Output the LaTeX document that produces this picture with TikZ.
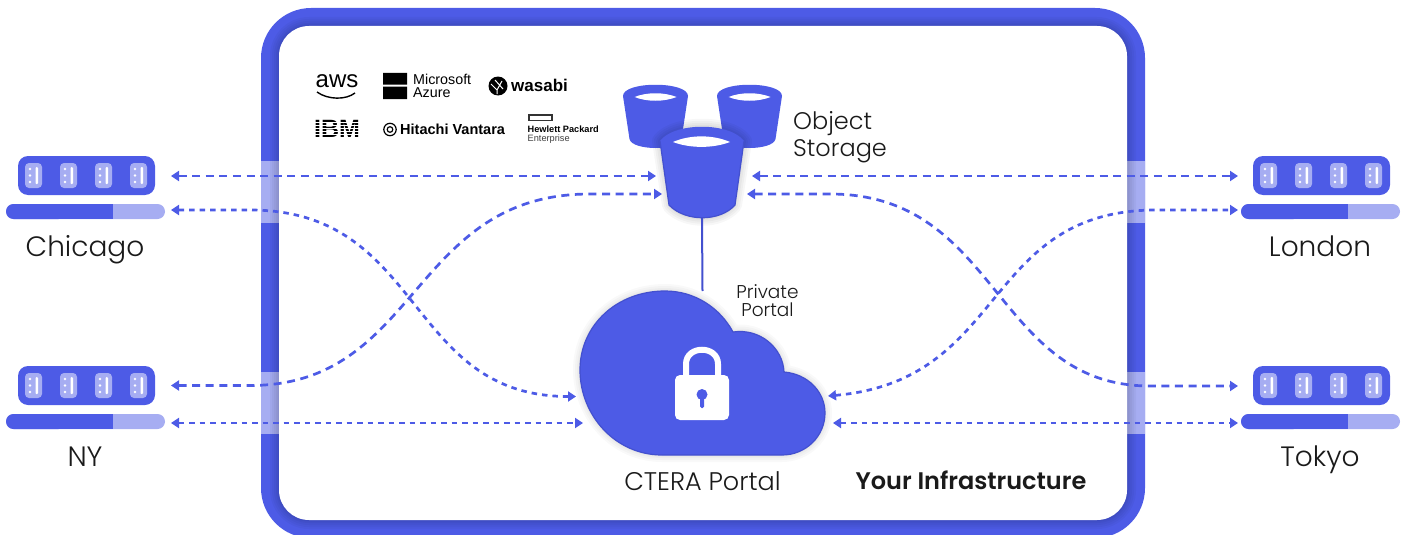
\documentclass[tikz,border=0pt]{standalone}
\usepackage{fontspec}
\setmainfont{Poppins Light}[BoldFont={Poppins SemiBold}]
\newfontfamily\logofont{Liberation Sans}
\usetikzlibrary{arrows.meta}
\definecolor{ctblue}{HTML}{4D5BE6}
\definecolor{ctdark}{HTML}{4350CF}
\definecolor{ctlight}{HTML}{A6ADF2}
\definecolor{txt}{HTML}{1A1A1A}
\newcommand{\fsz}[1]{\fontsize{#1}{#1}\selectfont}
\tikzset{
 linkbase/.style={ctblue,line width=2.7pt,{Triangle[length=8pt,width=10pt]}-{Triangle[length=8pt,width=10pt]}},
 link/.style={linkbase,dash pattern=on 8pt off 5.6pt},
 linkfine/.style={linkbase,dash pattern=on 5.5pt off 5pt},
 place/.style={text=txt,font=\fsz{28},inner sep=0pt,anchor=base},
 small/.style={text=txt,align=center,font=\fsz{18.5},inner sep=0pt},
 anchorbox/.style={inner sep=0pt,outer sep=0pt},
 logo/.style={inner sep=0pt,text=black,anchor=west,align=left},
}
\newcommand{\bucket}[5]{% cx, top y (ellipse centre), half width, bottom y, white half width
 \fill[ctblue] (#1-#3,#2) .. controls (#1-#3,#2-15) and (#1+#3,#2-15) .. (#1+#3,#2)
   -- (#1+#3*0.80,#4-14) .. controls (#1+#3*0.72,#4-2) and (#1-#3*0.72,#4-2) .. (#1-#3*0.80,#4-14) -- cycle;
 \fill[white] (#1-#5,#2+1) .. controls (#1-#5*0.4,#2-4) and (#1+#5*0.4,#2-4) .. (#1+#5,#2+1)
   .. controls (#1+#5*0.4,#2+6) and (#1-#5*0.4,#2+6) .. (#1-#5,#2+1) -- cycle;
}
\newcommand{\server}[3]{% name, left x of bar, top y of body
 \fill[ctblue,rounded corners=10pt] (#2+12,#3) rectangle (#2+149,#3+39);
 \foreach \dx in {0,35,70,105}{
  \fill[ctlight,rounded corners=4pt] (#2+19+\dx,#3+7) rectangle (#2+36+\dx,#3+32);
  \fill[white] (#2+24+\dx,#3+13) circle (1.4) (#2+24+\dx,#3+19.5) circle (1.4) (#2+24+\dx,#3+26) circle (1.4);
  \fill[white,rounded corners=1pt] (#2+29.5+\dx,#3+11) rectangle (#2+32+\dx,#3+28);
 }
 \fill[ctlight,rounded corners=7.5pt] (#2,#3+48) rectangle (#2+159,#3+63);
 \fill[ctblue,rounded corners=7.5pt] (#2,#3+48) -- (#2,#3+63) -- (#2+60,#3+63) -- (#2+60,#3+48) -- cycle;
 \fill[ctblue] (#2+30,#3+48) rectangle (#2+107,#3+63);
 \node[anchorbox,minimum width=159pt,minimum height=63pt] (#1) at (#2+79.5,#3+31.5) {};
}
\begin{document}
\begin{tikzpicture}[x=1pt,y=-1pt]
\useasboundingbox (0,0) rectangle (1405,535);
% frame
\fill[ctblue,rounded corners=50pt] (261,8) rectangle (1145,538);
\foreach \px in {261,1127}{
 \fill[ctlight] (\px,161) rectangle (\px+18,223);
 \fill[ctlight] (\px,372) rectangle (\px+18,434);
}
\foreach \w in {18,14,10,6,3}{
 \draw[black,opacity=0.03,line width=\w pt,rounded corners=30pt] (279,26) rectangle (1127,520);
}
\fill[white,rounded corners=30pt] (279,26) rectangle (1127,520);
% logos
\node[inner sep=0pt,font=\logofont\fsz{24}] (aws) at (337,81) {aws};
\draw[black,line width=1.4pt] (317,92) .. controls (328,100) and (346,100) .. (355,93);
\fill[black] (383,73) rectangle (407,84.5) (383,86.5) rectangle (407,99);
\node[logo,font=\logofont\fsz{14.3},text height=11pt] (azure) at (413,92) {Microsoft\\[-1pt]Azure};
\fill[black] (498,86) circle (9.5);
\draw[white,line width=1pt] (491,84) -- (497,90) -- (502,81) (495,80) -- (503,89) (497,90) -- (497,94);
\node[logo,font=\logofont\bfseries\fsz{17}] (wasabi) at (511,85) {wasabi};
\node[logo,font=\logofont\bfseries\fsz{25}] (ibm) at (314,129) {IBM};
\foreach \yy in {122,125,128,131,134}{\fill[white] (312,\yy) rectangle (362,\yy+1);}
\draw[black,line width=1.2pt] (390,129.5) circle (6.2);
\draw[black,line width=1.2pt] (390,129.5) circle (2.8);
\node[logo,font=\logofont\bfseries\fsz{14.5}] (hitachi) at (400,129.5) {Hitachi Vantara};
\draw[black!80,line width=1.1pt] (529,115) rectangle (552,120.5);
\node[logo,font=\logofont\bfseries\fsz{9.2}] (hpe) at (527.5,129.5) {Hewlett Packard};
\node[logo,font=\logofont\fsz{9.2},text=black!75] (hpe2) at (527.5,139) {Enterprise};
% buckets
\bucket{655.5}{96}{32.5}{153}{21}
\bucket{749.5}{96}{32.5}{153}{21}
\foreach \w in {16,12,8,4}{
 \draw[black,opacity=0.03,line width=\w pt,line join=round] (660,141) -- (670,205) .. controls (685,222) and (720,222) .. (734,205) -- (744,141) .. controls (730,122) and (674,122) .. (660,141) -- cycle;
}
\fill[ctblue] (660,141) .. controls (674,122) and (730,122) .. (744,141) -- (735,205) .. controls (720,222) and (685,222) .. (669,205) -- cycle;
\draw[ctdark,line width=1.2pt] (660,141) -- (669,205) .. controls (685,222) and (720,222) .. (735,205) -- (744,141);
\fill[white] (673,142) .. controls (690,134.5) and (713,134.5) .. (730,142) .. controls (713,148.5) and (690,148.5) .. (673,142) -- cycle;
\node[anchorbox,minimum width=84pt,minimum height=92pt] (store) at (702,172) {};
\node[anchor=west,align=left,text=txt,inner sep=0pt,font=\fontsize{24}{27}\selectfont] (objlabel) at (793,137) {Object\\Storage};
% cloud
\def\cloudpath{(662,455) .. controls (615,455) and (580,415) .. (580,370) .. controls (580,325) and (617,291) .. (665,291) .. controls (695,291) and (720,308) .. (733,332) .. controls (760,328) and (783,348) .. (784,372) .. controls (808,374) and (825,392) .. (825,413) .. controls (825,436) and (806,455) .. (782,455) -- cycle}
\node[anchorbox,minimum width=245pt,minimum height=164pt] (cloud) at (702.5,373) {};
\draw[ctdark,line width=2pt] (store.south) -- (cloud.north);
\foreach \w in {14,10,6,3}{
 \draw[black,opacity=0.025,line width=\w pt,line join=round] \cloudpath;
}
\fill[ctblue] \cloudpath;
\draw[ctdark,line width=1.2pt] \cloudpath;
% lock
\fill[white,rounded corners=5pt] (675,375) rectangle (729,420);
\draw[white,line width=6pt] (686,378) -- (686,364) .. controls (686,345) and (718,345) .. (718,364) -- (718,378);
\fill[ctblue] (702,394.5) circle (5.5);
\fill[ctblue,rounded corners=1.5pt] (700,395) rectangle (704,408);
% servers
\server{chi}{6}{156}
\server{ny}{6}{366}
\server{lon}{1241}{156}
\server{tok}{1241}{366}
\node[place] (chil) at (85,256) {Chicago};
\node[place] (nyl) at (85,466) {NY};
\node[place] (lonl) at (1320,256) {London};
\node[place] (tokl) at (1320,466) {Tokyo};
\node[small] (priv) at (767.5,300.5) {Private\\[-1pt]Portal};
\node[text=txt,inner sep=0pt,anchor=base,font=\fsz{25.5}] (ctera) at (702.5,490) {CTERA Portal};
\node[text=txt,inner sep=0pt,anchor=base,font=\bfseries\fsz{24}] (infra) at (971,489) {Your Infrastructure};
% connector ends
\coordinate (a1) at (171,176); \coordinate (a2) at (656,176);
\coordinate (b1) at (171,210); \coordinate (b2) at (576,396.5);
\coordinate (c1) at (171,385.5); \coordinate (c2) at (662,194);
\coordinate (d1) at (171,423); \coordinate (d2) at (583,423);
\coordinate (e1) at (752,176); \coordinate (e2) at (1238,176);
\coordinate (f1) at (747,194); \coordinate (f2) at (1238,386);
\coordinate (g1) at (828,396); \coordinate (g2) at (1238,210);
\coordinate (h1) at (833,423); \coordinate (h2) at (1238,423);
\draw[link] (a1) -- (a2);
\draw[link] (e1) -- (e2);
\draw[linkfine] (d1) -- (d2);
\draw[linkfine] (h1) -- (h2);
\draw[linkfine] (b1) -- (250,210) .. controls (425,210) and (405,396.5) .. (b2);
\draw[link] (c1) -- (250,385.5) .. controls (420,385.5) and (410,194) .. (590,194) -- (c2);
\draw[link] (f1) -- (830,194) .. controls (1000,194) and (993,386) .. (1150,386) -- (f2);
\draw[linkfine] (g1) .. controls (1010,380) and (981,208) .. (1160,210) -- (g2);
\end{tikzpicture}
\end{document}
